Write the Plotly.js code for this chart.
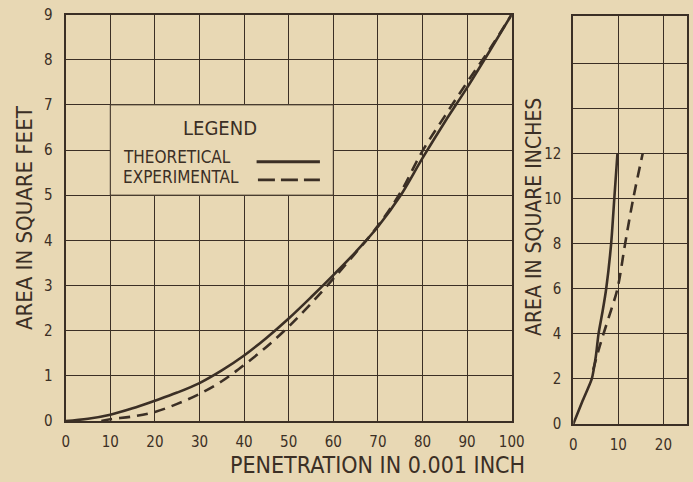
<!DOCTYPE html>
<html>
<head>
<meta charset="utf-8">
<script src="https://cdn.plot.ly/plotly-3.0.1.min.js"></script>
<style>html,body{margin:0;padding:0;background:#e8d8b4;}</style>
</head>
<body>
<div id="chart" style="width:693px;height:482px;"></div>
<script>
// Main chart: area (sq ft) vs penetration (0.001 inch)
const theoX = [0, 5, 10, 15, 20, 25, 30, 35, 40, 45, 50, 55, 60, 65, 70, 75, 80, 85, 90, 95, 100];
const theoY = [0, 0.05, 0.14, 0.28, 0.45, 0.63, 0.84, 1.12, 1.45, 1.84, 2.27, 2.74, 3.23, 3.74, 4.30, 4.98, 5.82, 6.62, 7.38, 8.18, 9.0];
const expX  = [8, 10, 15, 20, 25, 30, 35, 40, 45, 50, 55, 60, 65, 70, 75, 80, 85, 90, 95, 100];
const expY  = [0, 0.04, 0.10, 0.20, 0.38, 0.60, 0.88, 1.24, 1.64, 2.09, 2.60, 3.15, 3.72, 4.32, 5.05, 5.98, 6.75, 7.50, 8.22, 9.0];
// Inset chart: area (sq in) vs penetration
const smallTheoX = [0, 2, 4.1, 5, 5.6, 6.5, 7.3, 8.4, 9.1, 9.8];
const smallTheoY = [0, 1.0, 2.0, 3.0, 4.0, 5.0, 6.0, 8.0, 10.0, 12.0];
const smallExpX  = [4.4, 5.5, 6.7, 8.3, 9.8, 11.5, 13.3, 15.4];
const smallExpY  = [2.4, 3.2, 4.0, 5.0, 6.0, 8.0, 10.0, 12.0];
const mainXTicks = [0, 10, 20, 30, 40, 50, 60, 70, 80, 90, 100];
const mainYTicks = [0, 1, 2, 3, 4, 5, 6, 7, 8, 9];
const smallXTicks = [0, 10, 20];
const smallYTicks = [0, 2, 4, 6, 8, 10, 12, 14, 16];
const smallYLabels = ['0', '2', '4', '6', '8', '10', '12', '', ''];

const ink = '#3b2f25';
const bg = '#e8d8b4';
const fam = 'DejaVu Sans Condensed, DejaVu Sans, sans-serif';

const traces = [
  {x: theoX, y: theoY, mode: 'lines', line: {color: ink, width: 2.6, shape: 'spline'}, xaxis: 'x', yaxis: 'y', hoverinfo: 'skip'},
  {x: expX, y: expY, mode: 'lines', line: {color: ink, width: 2.6, dash: '11px,7px', shape: 'spline'}, xaxis: 'x', yaxis: 'y', hoverinfo: 'skip'},
  {x: smallTheoX, y: smallTheoY, mode: 'lines', line: {color: ink, width: 2.6, shape: 'spline', smoothing: 0.6}, xaxis: 'x2', yaxis: 'y2', hoverinfo: 'skip'},
  {x: smallExpX, y: smallExpY, mode: 'lines', line: {color: ink, width: 2.6, dash: '11px,7px', shape: 'spline'}, xaxis: 'x2', yaxis: 'y2', hoverinfo: 'skip'}
];

const axBase = {
  showgrid: true, gridcolor: ink, gridwidth: 1,
  showline: true, linecolor: ink, linewidth: 2, mirror: true,
  zeroline: false, ticks: '', fixedrange: true,
  tickfont: {family: fam, size: 15, color: ink}
};

const layout = {
  width: 693, height: 482,
  margin: {l: 0, r: 0, t: 0, b: 0},
  paper_bgcolor: bg, plot_bgcolor: bg,
  showlegend: false,
  xaxis: Object.assign({}, axBase, {domain: [65.7/693, 511.7/693], range: [0, 100], tickvals: mainXTicks, ticklabelstandoff: 6, anchor: 'y'}),
  yaxis: Object.assign({}, axBase, {domain: [1-421/482, 1-14.5/482], range: [0, 9], tickvals: mainYTicks, ticklabelstandoff: 8, anchor: 'x'}),
  xaxis2: Object.assign({}, axBase, {domain: [573.3/693, 687.3/693], range: [0, 25.3], tickvals: smallXTicks, ticklabelstandoff: 6, anchor: 'y2'}),
  yaxis2: Object.assign({}, axBase, {domain: [1-424/482, 1-16/482], range: [0, 18.1], tickvals: smallYTicks, ticktext: smallYLabels, ticklabelstandoff: 7, anchor: 'x2'}),
  shapes: [
    {type: 'rect', xref: 'x', yref: 'y', x0: 10, x1: 60, y0: 5, y1: 7, fillcolor: bg, line: {color: ink, width: 1}, layer: 'between'},
    {type: 'line', xref: 'x', yref: 'y', x0: 42.8, x1: 57, y0: 5.74, y1: 5.74, line: {color: ink, width: 2.8}},
    {type: 'line', xref: 'x', yref: 'y', x0: 43.1, x1: 57, y0: 5.34, y1: 5.34, line: {color: ink, width: 2.8, dash: '17px,6px'}}
  ],
  annotations: [
    {text: 'LEGEND', xref: 'x', yref: 'y', x: 34.6, y: 6.49, xanchor: 'center', yanchor: 'middle', showarrow: false, font: {family: fam, size: 20, color: ink}},
    {text: 'THEORETICAL', xref: 'x', yref: 'y', x: 12.4, y: 5.85, xanchor: 'left', yanchor: 'middle', showarrow: false, font: {family: fam, size: 17, color: ink}},
    {text: 'EXPERIMENTAL', xref: 'x', yref: 'y', x: 12.4, y: 5.41, xanchor: 'left', yanchor: 'middle', showarrow: false, font: {family: fam, size: 17, color: ink}},
    {text: 'AREA IN SQUARE FEET', xref: 'paper', yref: 'paper', x: 25/693, y: 1-218/482, xanchor: 'center', yanchor: 'middle', textangle: -90, showarrow: false, font: {family: fam, size: 22, color: ink}},
    {text: 'AREA IN SQUARE INCHES', xref: 'paper', yref: 'paper', x: 534/693, y: 1-217/482, xanchor: 'center', yanchor: 'middle', textangle: -90, showarrow: false, font: {family: fam, size: 21, color: ink}},
    {text: 'PENETRATION IN 0.001 INCH', xref: 'paper', yref: 'paper', x: 377/693, y: 1-465/482, xanchor: 'center', yanchor: 'middle', showarrow: false, font: {family: fam, size: 23, color: ink}}
  ]
};

Plotly.newPlot('chart', traces, layout, {staticPlot: true, displayModeBar: false});
</script>
</body>
</html>
